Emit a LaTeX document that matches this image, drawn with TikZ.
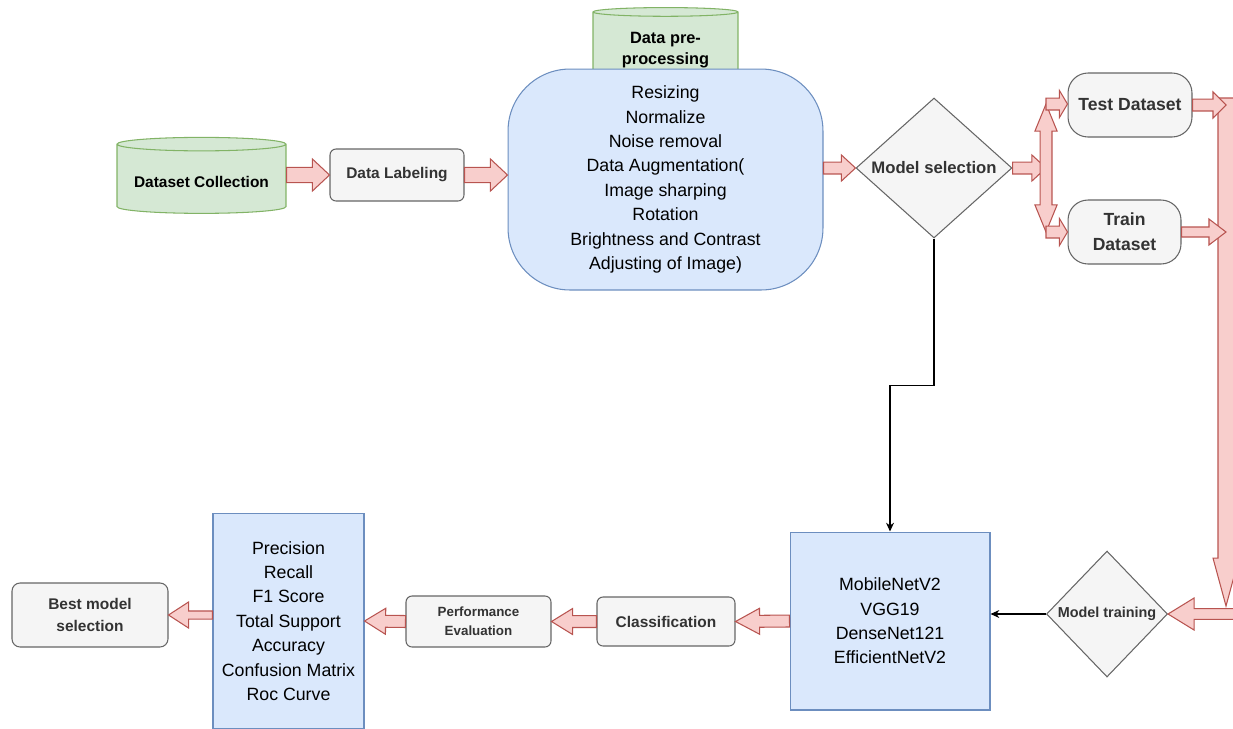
\documentclass[tikz,border=0pt]{standalone}
\usepackage{fontspec}
\setmainfont{Liberation Sans}
\usetikzlibrary{shapes.geometric,arrows.meta,calc}

\definecolor{greenFill}{HTML}{D5E8D4}
\definecolor{greenLine}{HTML}{82B366}
\definecolor{blueFill}{HTML}{DAE8FC}
\definecolor{blueLine}{HTML}{6C8EBF}
\definecolor{grayFill}{HTML}{F5F5F5}
\definecolor{grayLine}{HTML}{666666}
\definecolor{grayText}{HTML}{333333}
\definecolor{redFill}{HTML}{F8CECC}
\definecolor{redLine}{HTML}{B85450}

\tikzset{
    flexshaft/.store in=\flexShaft, flexhead/.store in=\flexHead, flexlen/.store in=\flexLen,
    flexshaft=3.4pt, flexhead=7.4pt, flexlen=12pt
}

\begin{document}
\begin{tikzpicture}[
    x=0.02cm, y=-0.02cm,
    every node/.style={align=center, inner sep=0pt},
    boldText/.style={font=\bfseries\fontsize{8.8pt}{12.4pt}\selectfont, text=grayText},
    listText/.style={font=\fontsize{10.1pt}{13.9pt}\selectfont, text=black},
    grayBox/.style={rectangle, rounded corners=0.12cm, draw=grayLine, fill=grayFill, line width=0.6pt, boldText},
    softBox/.style={grayBox, rounded corners=0.4cm, font=\bfseries\fontsize{10pt}{14.2pt}\selectfont},
    blueBox/.style={rectangle, draw=blueLine, fill=blueFill, line width=0.6pt, listText},
    greenCyl/.style={cylinder, shape border rotate=90, aspect=0.1, draw=greenLine, fill=greenFill, line width=0.6pt, boldText, text=black},
    choice/.style={diamond, draw=grayLine, fill=grayFill, line width=0.6pt, boldText},
    link/.style={draw=black, line width=0.6pt, -{Stealth[length=5pt,width=4.5pt]}},
    flex/.style={draw=redLine, fill=redFill, line width=0.6pt, line join=miter,
        to path={let \p1=(\tikztostart), \p2=(\tikztotarget),
            \n1={atan2(\y2-\y1,\x2-\x1)}, \n2={veclen(\x2-\x1,\y2-\y1)} in
            [shift={(\p1)}, rotate=\n1]
            (0pt,-\flexShaft) -- ({\n2-\flexLen},-\flexShaft) -- ({\n2-\flexLen},-\flexHead)
            -- ({\n2+0pt},0pt) -- ({\n2-\flexLen},\flexHead) -- ({\n2-\flexLen},\flexShaft)
            -- (0pt,\flexShaft) -- cycle}},
    flexBoth/.style={draw=redLine, fill=redFill, line width=0.6pt, line join=miter,
        to path={let \p1=(\tikztostart), \p2=(\tikztotarget),
            \n1={atan2(\y2-\y1,\x2-\x1)}, \n2={veclen(\x2-\x1,\y2-\y1)} in
            [shift={(\p1)}, rotate=\n1]
            (0pt,0pt) -- (\flexLen,\flexHead) -- (\flexLen,\flexShaft)
            -- ({\n2-\flexLen},\flexShaft) -- ({\n2-\flexLen},\flexHead) -- ({\n2+0pt},0pt)
            -- ({\n2-\flexLen},-\flexHead) -- ({\n2-\flexLen},-\flexShaft)
            -- (\flexLen,-\flexShaft) -- (\flexLen,-\flexHead) -- cycle}}
]
\useasboundingbox (0,0) rectangle (1233,728);
\clip (0,0) rectangle (1233,728);

% Nodes
\node[greenCyl, minimum width=3.38cm, minimum height=1.52cm, text height=9.8pt, text depth=0pt] (collect) at (201.5,179) {Dataset Collection};
\node[grayBox, minimum width=2.68cm, minimum height=1.04cm] (labeling) at (397,175) {Data Labeling};
\node[greenCyl, minimum width=2.9cm, minimum height=1.6cm, font=\bfseries\fontsize{9.3pt}{12pt}\selectfont] (prepTitle) at (665.5,50) {Data pre-\\processing};
\node[blueBox, rounded corners=1.24cm, minimum width=6.3cm, minimum height=4.42cm] (prep) at (665.5,179.5)
    {Resizing\\Normalize\\Noise removal\\Data Augmentation(\\Image sharping\\Rotation\\Brightness and Contrast\\Adjusting of Image)};
\node[choice, aspect=1.11, minimum width=3.12cm, minimum height=2.8cm, font=\bfseries\fontsize{9.5pt}{12pt}\selectfont] (select) at (934,168) {Model selection};
\coordinate (split) at (1046,168);
\coordinate (splitTop) at (1046,104);
\coordinate (splitBot) at (1046,232);
\node[softBox, minimum width=2.48cm, minimum height=1.28cm] (test) at (1130,105) {Test Dataset};
\node[softBox, minimum width=2.26cm, minimum height=1.28cm] (train) at (1124.5,232) {Train\\Dataset};
\coordinate (trunkTop) at (1226,98);
\coordinate (trunkEnd) at (1226,606);
\coordinate (turn) at (1248,614);
\node[choice, aspect=0.96, minimum width=2.42cm, minimum height=2.52cm, font=\bfseries\fontsize{8.2pt}{10pt}\selectfont] (training) at (1107,614) {Model training};
\node[blueBox, minimum width=4cm, minimum height=3.56cm] (models) at (890,621) {MobileNetV2\\VGG19\\DenseNet121\\EfficientNetV2};
\node[grayBox, minimum width=2.76cm, minimum height=0.98cm] (classify) at (666,621.5) {Classification};
\node[grayBox, minimum width=2.9cm, minimum height=1.02cm, font=\bfseries\fontsize{7.6pt}{10.8pt}\selectfont] (evaluate) at (478.5,621.5) {Performance\\Evaluation};
\node[blueBox, minimum width=3.02cm, minimum height=4.32cm] (metrics) at (288.5,621)
    {Precision\\Recall\\F1 Score\\Total Support\\Accuracy\\Confusion Matrix\\Roc Curve};
\node[grayBox, rounded corners=0.16cm, minimum width=3.12cm, minimum height=1.28cm] (best) at (90,615) {Best model\\selection};

% Arrows
\draw[flex, flexshaft=4.3pt, flexhead=9.1pt, flexlen=9.7pt] (collect.east |- labeling.west) to (labeling.west);
\draw[flex, flexshaft=4.3pt, flexhead=9.1pt, flexlen=9.7pt] (labeling.east) to (labeling.east -| prep.west);
\draw[flex, flexlen=8pt] (prep.east |- select.west) to (select.west);
\draw[flex, flexlen=8pt] (select.east) to (split);
\draw[flexBoth, flexhead=6.3pt, flexlen=15.4pt] (splitTop) to (splitBot);
\draw[flex, flexhead=7.7pt, flexlen=4.6pt] (splitTop) to (splitTop -| test.west);
\draw[flex, flexhead=7.7pt, flexlen=4.6pt] (splitBot) to (splitBot -| train.west);
\draw[flex, flexshaft=4.55pt, flexlen=27.3pt] (trunkTop) to (trunkEnd);
\draw[flex, flexlen=7.4pt] (test.east) to (test.east -| trunkTop);
\draw[flex, flexshaft=2.85pt, flexlen=9.7pt] (train.east) to (train.east -| trunkTop);
\draw[flex, flexshaft=3.1pt, flexhead=9.1pt, flexlen=14.8pt] (turn) to (training.east);
\draw[link] (select.south) -- ++(0,147) -| (models.north);
\draw[link] (training.west) -- (training.west -| models.east);
\draw[flex, flexlen=13.7pt] (models.west) to (classify.east);
\draw[flex] (classify.west) to (evaluate.east);
\draw[flex] (evaluate.west) to (metrics.east);
\draw[flex, flexshaft=2.3pt, flexlen=11.4pt] (metrics.west |- best.east) to (best.east);

\end{tikzpicture}
\end{document}
